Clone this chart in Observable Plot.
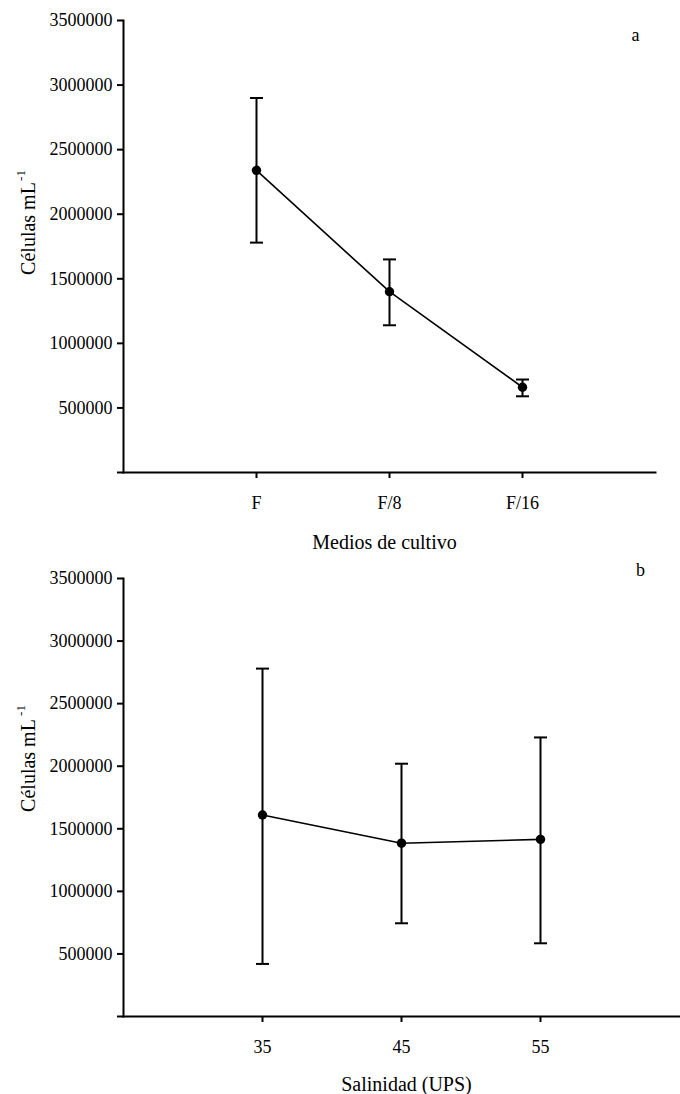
<!DOCTYPE html>
<html>
<head>
<meta charset="utf-8">
<script src="https://cdn.jsdelivr.net/npm/d3@7"></script>
<script src="https://cdn.jsdelivr.net/npm/@observablehq/plot@0.6"></script>
<style>
  html, body { margin: 0; padding: 0; background: #fff; }
  #chart svg { display: block; }
</style>
</head>
<body>
<div id="chart"></div>
<script>
// ---- Panel a: culture media ----
const medios = ["F", "F/8", "F/16"];
const mediosMean = [2340000, 1400000, 660000];
const mediosHigh = [2900000, 1650000, 720000];
const mediosLow = [1780000, 1140000, 590000];

// ---- Panel b: salinity ----
const salinidad = [35, 45, 55];
const salMean = [1610000, 1385000, 1415000];
const salHigh = [2780000, 2020000, 2230000];
const salLow = [420000, 745000, 585000];

const yTicks = [0, 500000, 1000000, 1500000, 2000000, 2500000, 3000000, 3500000];
const yTitle = "Células mL";
const yTitleSup = "-1";
const xTitleA = "Medios de cultivo";
const xTitleB = "Salinidad (UPS)";

const dataA = medios.map((m, i) => ({x: m, mean: mediosMean[i], lo: mediosLow[i], hi: mediosHigh[i]}));
const dataB = salinidad.map((s, i) => ({x: s, mean: salMean[i], lo: salLow[i], hi: salHigh[i]}));

const cap = { draw(ctx) { ctx.moveTo(-6.5, 0); ctx.lineTo(6.5, 0); } };
const font = "Liberation Serif, Times New Roman, serif";
const centered = {textAnchor: "middle", lineAnchor: "middle"};

function panel({data, x, height, marginTop, marginBottom, marginRight, letter, letterDx, letterDy, xTitle, xTitleDx, xTitleDy, yTitleDy, supDy}) {
  return Plot.plot({
    width: 680,
    height,
    marginTop,
    marginBottom,
    marginLeft: 123,
    marginRight,
    style: {fontFamily: font, fontSize: "18px", color: "#000", background: "#fff", overflow: "visible"},
    x: {...x, label: null},
    y: {domain: [0, 3500000], label: null},
    marks: [
      Plot.axisY({ticks: yTicks, tickSize: 6, tickPadding: 5, strokeWidth: 2,
        tickFormat: d => d === 0 ? "" : String(d), fontSize: 18}),
      Plot.axisX({tickSize: 6, tickPadding: 18, strokeWidth: 2, fontSize: 18, ...(x.ticks ? {ticks: x.ticks} : {})}),
      Plot.frame({anchor: "left", strokeWidth: 2}),
      Plot.frame({anchor: "bottom", strokeWidth: 2}),
      Plot.ruleX(data, {x: "x", y1: "lo", y2: "hi", strokeWidth: 2}),
      Plot.dot(data, {x: "x", y: "hi", symbol: cap, stroke: "#000", strokeWidth: 2, fill: "none"}),
      Plot.dot(data, {x: "x", y: "lo", symbol: cap, stroke: "#000", strokeWidth: 2, fill: "none"}),
      Plot.line(data, {x: "x", y: "mean", stroke: "#000", strokeWidth: 1.6}),
      Plot.dot(data, {x: "x", y: "mean", r: 4.7, fill: "#000", stroke: "none"}),
      Plot.text([xTitle], {text: d => d, frameAnchor: "bottom", dx: xTitleDx, dy: xTitleDy, fontSize: 20, ...centered}),
      Plot.text([yTitle], {text: d => d, frameAnchor: "left", rotate: -90, dx: -95, dy: yTitleDy, fontSize: 20, ...centered}),
      Plot.text([yTitleSup], {text: d => d, frameAnchor: "left", rotate: -90, dx: -103, dy: supDy, fontSize: 13, ...centered}),
      Plot.text([letter], {text: d => d, frameAnchor: "top-right", dx: letterDx, dy: letterDy, fontSize: 18, ...centered})
    ]
  });
}

const a = panel({
  data: dataA,
  x: {type: "point", domain: medios, padding: 1},
  height: 560, marginTop: 20, marginBottom: 88, marginRight: 25,
  letter: "a", letterDx: -20, letterDy: 15,
  xTitle: xTitleA, xTitleDx: -5, xTitleDy: 70,
  yTitleDy: -18, supDy: -71
});

const b = panel({
  data: dataB,
  x: {type: "linear", domain: [25, 65], ticks: salinidad},
  height: 534, marginTop: 18, marginBottom: 78, marginRight: 1,
  letter: "b", letterDx: -39, letterDy: -8,
  xTitle: xTitleB, xTitleDx: 5, xTitleDy: 68,
  yTitleDy: -32, supDy: -87
});

document.getElementById("chart").append(a, b);
</script>
</body>
</html>
